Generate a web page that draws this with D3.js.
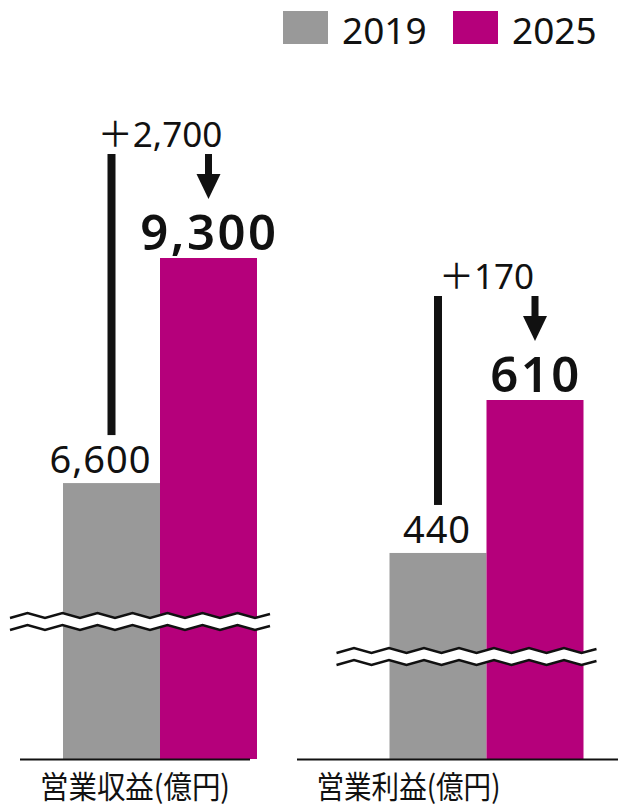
<!DOCTYPE html>
<html>
  <head>
    <meta charset="utf-8" />
    <script src="https://cdn.jsdelivr.net/npm/d3@7"></script>
    <style>
        body {margin: 0; background: #fff;}
        text {font-family: "Noto Sans", "Noto Sans CJK JP", sans-serif; fill: #111;}
        .cat {font-family: "Noto Sans CJK JP", sans-serif;}
    </style>
  </head>
  <body>
    <svg id="viz"></svg>
    <script>
        // data
        var years = ["2019", "2025"];
        var categories = ["営業収益(億円)", "営業利益(億円)"];
        var revenue = [6600, 9300];
        var profit = [440, 610];
        var colors = ["#999999", "#b5007b"];

        var width = 618, height = 808;
        var baseY = 759;

        var svg = d3.select("#viz").attr("width", width).attr("height", height);

        // panel centres and bars inside each panel
        var x0 = d3.scalePoint().domain(categories).range([160, 486.5]);
        var x1 = d3.scaleBand().domain(years).range([-97, 97]);

        // each panel has its own broken axis
        var panels = [
            {cat: categories[0], values: revenue, y: d3.scaleLinear().domain([3290, 9300]).range([baseY, 258]),
             breakY: 613, axis: [20, 250], dx: -11, labelX: 135, labelW: 190},
            {cat: categories[1], values: profit, y: d3.scaleLinear().domain([211, 610]).range([baseY, 400]),
             breakY: 648, axis: [297, 618], dx: -1, labelX: 408.5, labelW: 184}
        ];

        var fmt = d3.format(",");

        panels.forEach(function(p) {
            var c = x0(p.cat);
            var g = svg.append("g");

            // bars
            g.selectAll("rect.bar")
                .data(p.values)
                .enter().append("rect")
                .attr("class", "bar")
                .attr("x", function(d, i) { return c + x1(years[i]); })
                .attr("width", x1.bandwidth())
                .attr("y", function(d) { return p.y(d); })
                .attr("height", function(d) { return baseY - p.y(d); })
                .attr("fill", function(d, i) { return colors[i]; });

            // break mark: white band between two zigzags
            var x0b = c - 150, x1b = c + 110;
            var pts = [];
            for (var x = x0b, k = 0; x <= x1b; x += 17.5, k++) {
                pts.push([x, k % 2 === 0 ? 5 : 0]);
            }
            pts.push([x1b, 1]);
            var upper = pts.map(function(q) { return [q[0], p.breakY + q[1]]; });
            var lower = pts.map(function(q) { return [q[0], p.breakY + 12 + q[1]]; });
            g.append("path")
                .attr("d", "M" + upper.join("L") + "L" + lower.slice().reverse().join("L") + "Z")
                .attr("fill", "#fff");
            var line = d3.line();
            [upper, lower].forEach(function(l) {
                g.append("path")
                    .attr("d", line(l))
                    .attr("fill", "none")
                    .attr("stroke", "#111")
                    .attr("stroke-width", 2.5);
            });

            // baseline
            g.append("line")
                .attr("x1", p.axis[0]).attr("x2", p.axis[1])
                .attr("y1", baseY + 0.5).attr("y2", baseY + 0.5)
                .attr("stroke", "#111").attr("stroke-width", 2);

            var gx = c + x1(years[0]) + x1.bandwidth() / 2;
            var mx = c + x1(years[1]) + x1.bandwidth() / 2;
            var gTop = p.y(p.values[0]);
            var mTop = p.y(p.values[1]);

            // value labels
            g.append("text")
                .attr("x", gx + p.dx).attr("y", gTop - 10)
                .attr("text-anchor", "middle")
                .attr("font-size", 38)
                .attr("letter-spacing", 1)
                .text(fmt(p.values[0]));

            g.append("text")
                .attr("x", mx + 1).attr("y", mTop - 8)
                .attr("text-anchor", "middle")
                .attr("font-size", 49)
                .attr("letter-spacing", 2.5)
                .attr("font-weight", 600)
                .text(fmt(p.values[1]));

            // difference bracket
            g.append("rect")
                .attr("x", gx - 4).attr("width", 8)
                .attr("y", mTop - 104).attr("height", gTop - 48 - (mTop - 104))
                .attr("fill", "#111");

            g.append("text")
                .attr("x", c).attr("y", mTop - 111)
                .attr("text-anchor", "middle")
                .attr("font-size", 35)
                .text("＋" + fmt(p.values[1] - p.values[0]));

            // arrow
            g.append("rect")
                .attr("x", mx - 3.5).attr("width", 7)
                .attr("y", mTop - 104).attr("height", 22)
                .attr("fill", "#111");
            g.append("path")
                .attr("d", "M" + (mx - 12) + "," + (mTop - 84) + "L" + (mx + 12) + "," + (mTop - 84) +
                           "L" + mx + "," + (mTop - 59) + "Z")
                .attr("fill", "#111");

            // category label
            g.append("text")
                .attr("class", "cat")
                .attr("x", p.labelX).attr("y", 798)
                .attr("text-anchor", "middle")
                .attr("font-size", 31)
                .attr("textLength", p.labelW)
                .attr("lengthAdjust", "spacingAndGlyphs")
                .text(p.cat);
        });

        // legend
        var legend = svg.append("g").selectAll("g")
            .data(years)
            .enter().append("g")
            .attr("transform", function(d, i) { return "translate(" + (283 + i * 170) + ",11)"; });
        legend.append("rect")
            .attr("width", 45).attr("height", 33)
            .attr("fill", function(d, i) { return colors[i]; });
        legend.append("text")
            .attr("x", 59).attr("y", 33)
            .attr("font-size", 37)
            .text(function(d) { return d; });
    </script>
  </body>
</html>
